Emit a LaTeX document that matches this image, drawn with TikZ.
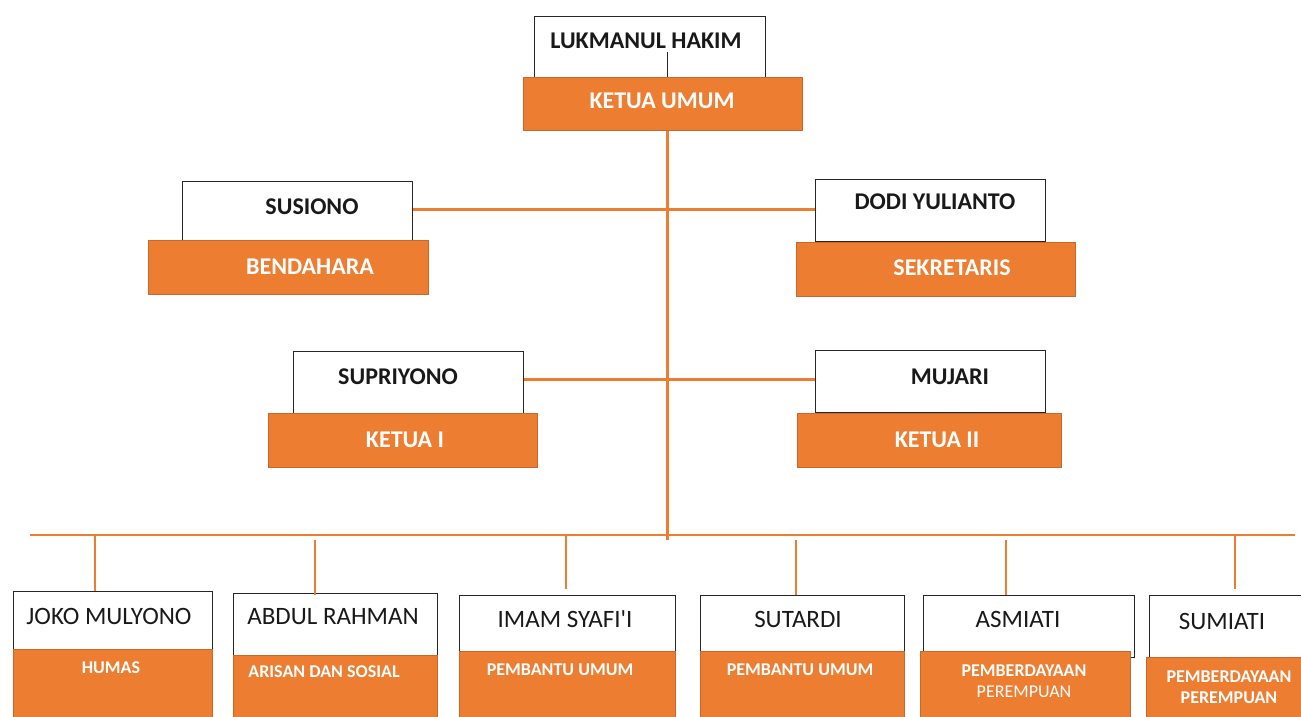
\documentclass[tikz,border=0pt]{standalone}
\usepackage{fontspec}
\setmainfont{Carlito}[Ligatures=TeXOff]
\definecolor{org}{HTML}{ED7D31}
\definecolor{orgd}{HTML}{C8692B}
\begin{document}
\begin{tikzpicture}[x=1pt,y=-1pt,
  wbox/.style={draw=black!85, line width=1.3pt, fill=white, inner sep=0pt, anchor=north west},
  obox/.style={draw=orgd, line width=0.9pt, fill=org, inner sep=0pt, anchor=north west},
  topname/.style={font=\bfseries\fontsize{24}{26}\selectfont, text=black!90, inner sep=0pt},
  toprole/.style={font=\bfseries\fontsize{24}{26}\selectfont, text=white, inner sep=0pt},
  botname/.style={font=\fontsize{25}{27}\selectfont, text=black!90, inner sep=0pt},
  botrole/.style={font=\bfseries\fontsize{18}{20}\selectfont, text=white, inner sep=0pt, align=center},
  oline/.style={draw=org, line width=3pt},
  kline/.style={draw=black!85, line width=1pt}]
\useasboundingbox (0,0) rectangle (1301,717);
\clip (0,0) rectangle (1301,717);
\fill[white] (0,0) rectangle (1301,717);

\coordinate (vx) at (667,0);
\coordinate (y1) at (0,209);
\coordinate (y2) at (0,379);
\coordinate (busL) at (30,535);
\coordinate (busR) at (1295,535);
\coordinate (vend) at (667,540);

% top
\node[wbox, minimum width=231pt, minimum height=61pt] (lukw) at (534,16) {};
\node[topname] (lukt) at (646,41) {LUKMANUL HAKIM};
\node[obox, minimum width=279pt, minimum height=53pt] (ku) at (523,77) {};
\node[toprole] (kut) at (662,101) {KETUA UMUM};
\coordinate (kstart) at (667,52);
\draw[kline] (kstart) -- (kstart |- ku.north);

\draw[oline] (ku.south -| vx) -- (vend);
\draw[oline, line width=2.6pt] (busL) -- (busR);

% second row
\node[wbox, minimum width=230pt, minimum height=62pt] (susw) at (182,181) {};
\node[topname] (sust) at (312,207) {SUSIONO};
\node[obox, minimum width=280pt, minimum height=54pt] (ben) at (148,240) {};
\node[toprole] (bent) at (310,267) {BENDAHARA};

\node[wbox, minimum width=230pt, minimum height=62pt] (dodw) at (815,179) {};
\node[topname] (dodt) at (935,202) {DODI YULIANTO};
\node[obox, minimum width=279pt, minimum height=54pt] (sek) at (796,242) {};
\node[toprole] (sekt) at (952,268) {SEKRETARIS};

\draw[oline] (susw.east |- y1) -- (dodw.west |- y1);

% third row
\node[wbox, minimum width=230pt, minimum height=62pt] (supw) at (293,351) {};
\node[topname] (supt) at (398,377) {SUPRIYONO};
\node[obox, minimum width=269pt, minimum height=54pt] (k1) at (268,413) {};
\node[toprole] (k1t) at (405,440) {KETUA I};

\node[wbox, minimum width=230pt, minimum height=62pt] (mujw) at (815,350) {};
\node[topname] (mujt) at (950,377) {MUJARI};
\node[obox, minimum width=264pt, minimum height=54pt] (k2) at (797,413) {};
\node[toprole] (k2t) at (937,440) {KETUA II};

\draw[oline] (supw.east |- y2) -- (mujw.west |- y2);

% bottom row boxes
\node[wbox, minimum width=199pt, minimum height=58pt] (jokw) at (13,591) {};
\node[obox, minimum width=199pt, minimum height=71pt] (joko) at (13,649) {};
\node[botname] (jokt) at (109,616) {JOKO MULYONO};
\node[botrole] (jokr) at (111,668) {HUMAS};

\node[wbox, minimum width=204pt, minimum height=62pt] (abdw) at (233,593) {};
\node[obox, minimum width=204pt, minimum height=65pt] (abdo) at (233,655) {};
\node[botname] (abdt) at (333,617) {ABDUL RAHMAN};
\node[botrole] (abdr) at (324,672) {ARISAN DAN SOSIAL};

\node[wbox, minimum width=216pt, minimum height=56pt] (imaw) at (459,595) {};
\node[obox, minimum width=216pt, minimum height=69pt] (imao) at (459,651) {};
\node[botname] (imat) at (565,619) {IMAM SYAFI'I};
\node[botrole] (imar) at (560,670) {PEMBANTU UMUM};

\node[wbox, minimum width=204pt, minimum height=56pt] (sutw) at (700,595) {};
\node[obox, minimum width=204pt, minimum height=69pt] (suto) at (700,651) {};
\node[botname] (sutt) at (798,619) {SUTARDI};
\node[botrole] (sutr) at (800,670) {PEMBANTU UMUM};

\node[wbox, minimum width=211pt, minimum height=62pt] (asmw) at (923,595) {};
\node[obox, minimum width=210pt, minimum height=69pt] (asmo) at (920,651) {};
\node[botname] (asmt) at (1018,619) {ASMIATI};
\node[botrole] (asmr) at (1024,681) {PEMBERDAYAAN\\[1pt]{\mdseries PEREMPUAN}};

\node[wbox, minimum width=161pt, minimum height=62pt] (sumw) at (1149,595) {};
\node[obox, minimum width=164pt, minimum height=63pt] (sumo) at (1146,657) {};
\node[botname] (sumt) at (1222,621) {SUMIATI};
\node[botrole] (sumr) at (1229,687) {PEMBERDAYAAN\\[1pt]PEREMPUAN};

% drops
\coordinate (d1a) at (95,535);   \coordinate (d1b) at (95,591);
\coordinate (d2a) at (315,540);  \coordinate (d2b) at (315,595);
\coordinate (d3a) at (566,535);  \coordinate (d3b) at (566,589);
\coordinate (d4a) at (796,540);  \coordinate (d4b) at (796,595);
\coordinate (d5a) at (1006,540); \coordinate (d5b) at (1006,595);
\coordinate (d6a) at (1235,535); \coordinate (d6b) at (1235,589);
\draw[oline, line width=2.6pt] (d1a) -- (d1b);
\draw[oline, line width=2.6pt] (d2a) -- (d2b);
\draw[oline, line width=2.6pt] (d3a) -- (d3b);
\draw[oline, line width=2.6pt] (d4a) -- (d4b);
\draw[oline, line width=2.6pt] (d5a) -- (d5b);
\draw[oline, line width=2.6pt] (d6a) -- (d6b);
\end{tikzpicture}
\end{document}
